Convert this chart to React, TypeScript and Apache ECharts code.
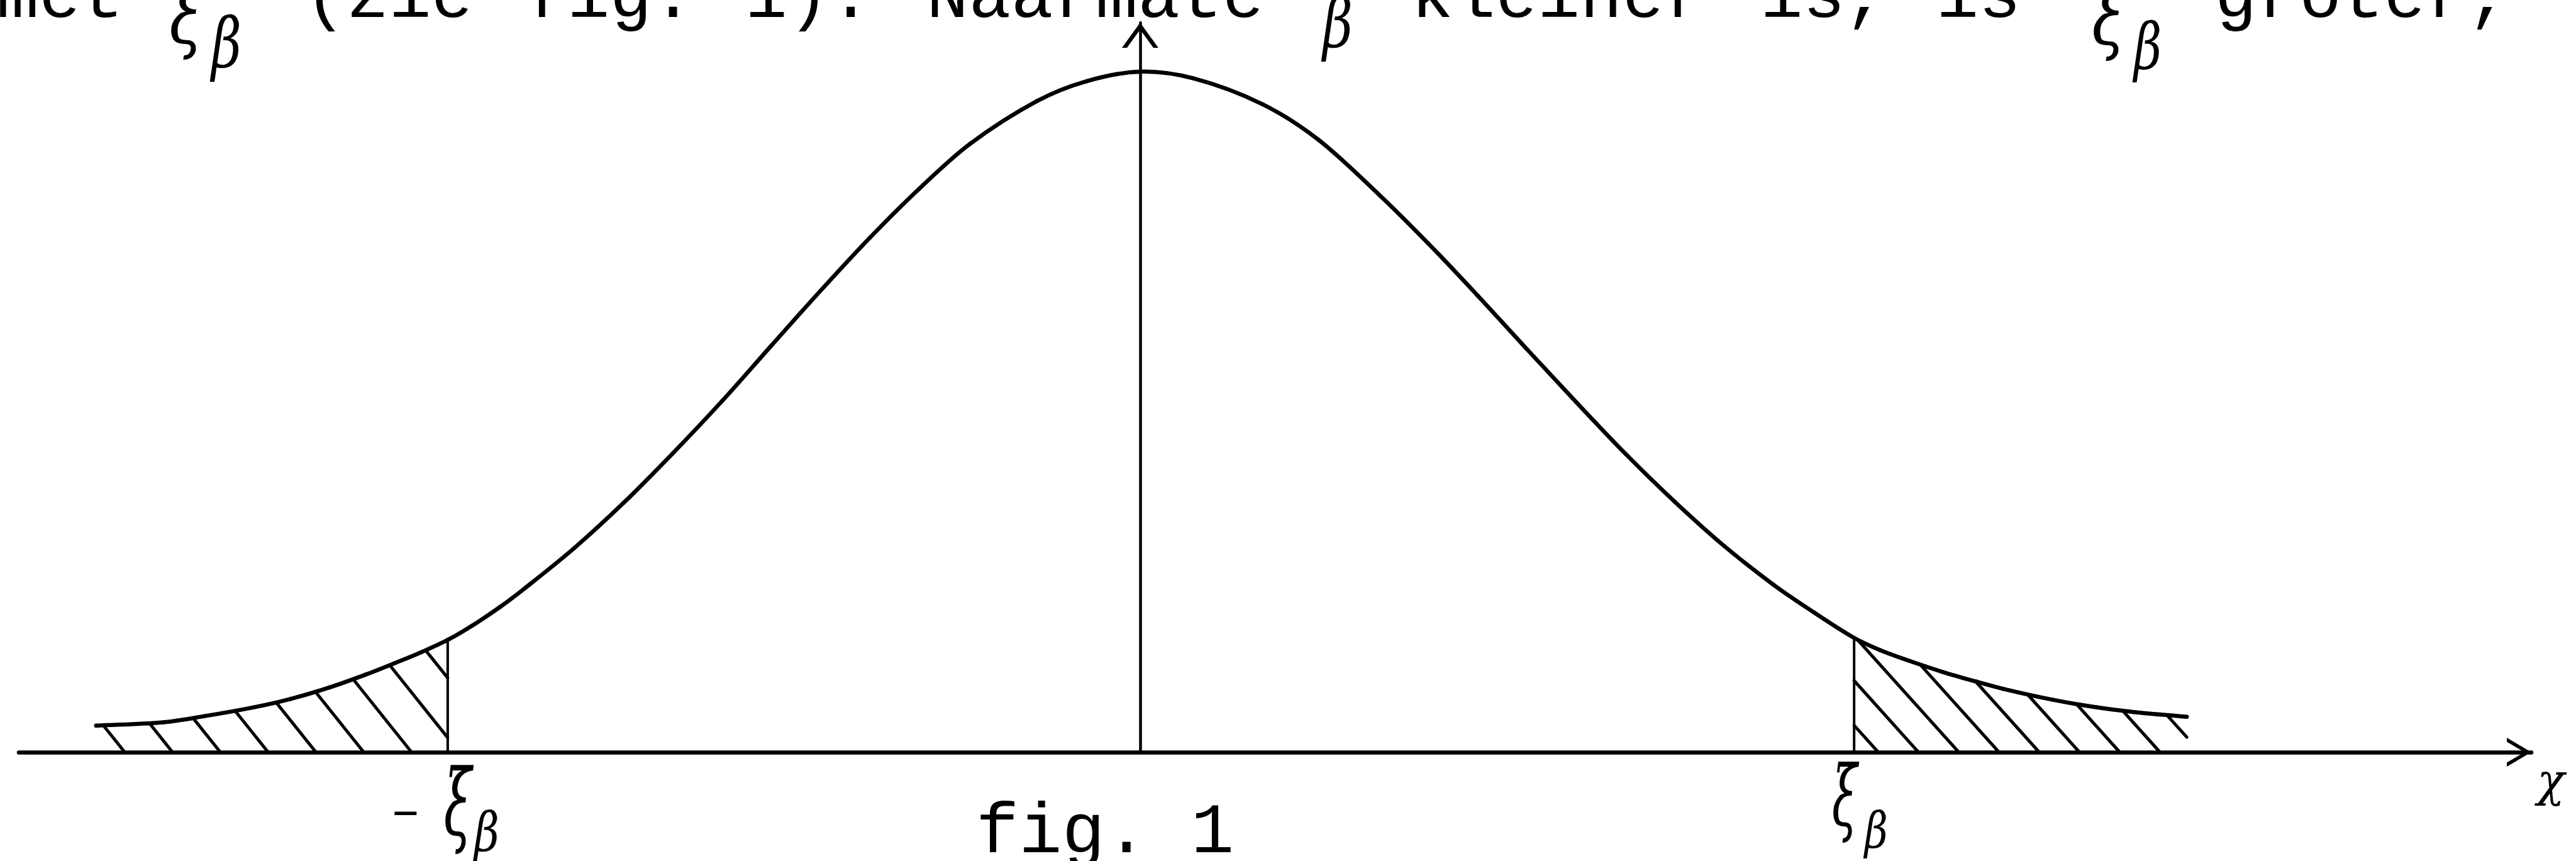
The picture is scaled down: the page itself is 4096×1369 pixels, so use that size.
import React, { useEffect, useRef } from "react";
import * as echarts from "echarts";

// Bell curve, x in standard-deviation units, height relative to the peak (= 1)
const curveX = [
  -2.812, -2.631, -2.52, -2.387, -2.29, -2.184, -2.086, -2.007, -1.936, -1.865,
  -1.799, -1.725, -1.657, -1.524, -1.392, -1.259, -1.126, -0.994, -0.861, -0.728, -0.595,
  -0.458, -0.277, -0.144, 0, 0.144, 0.33, 0.48, 0.644, 0.777, 0.909, 1.042, 1.175,
  1.308, 1.44, 1.573, 1.706, 1.816, 1.923, 1.993, 2.073, 2.161, 2.25, 2.325, 2.458,
  2.575, 2.677, 2.819,
];
const curveY = [
  0.039, 0.044, 0.053, 0.066, 0.078, 0.095, 0.114, 0.131, 0.147, 0.165,
  0.186, 0.213, 0.241, 0.3, 0.366, 0.439, 0.516, 0.597, 0.678, 0.756, 0.828,
  0.894, 0.957, 0.986, 1.0, 0.99, 0.952, 0.9, 0.819, 0.747, 0.671, 0.592, 0.514,
  0.438, 0.368, 0.303, 0.246, 0.205, 0.168, 0.15, 0.134, 0.118, 0.104, 0.093, 0.077,
  0.066, 0.059, 0.052,
];

// Critical values -ξβ and ξβ bounding the shaded tails
const cutoffs = [-1.865, 1.923];
const cutoffSigns = ["−", ""];
const cutoffLetter = "ξ";
const cutoffSub = "β";
const axisName = "χ";
const caption = "fig. 1";

// Typed sentence running along the top edge (partly cut off)
const sentenceWords = ["met", "(zie", "fig.", "1).", "Naarmate", "kleiner", "is,", "is", "groter,"];
const sentenceCells = [-10, 478, 829, 1180, 1461, 2233, 2795, 3076, 3511];
const sentenceGreek = [
  { ch: "ξ", x: 296, y: 23, fs: 130, sx: 0.75 },
  { ch: "β", x: 360, y: 69, fs: 110, sx: 0.75 },
  { ch: "β", x: 2127, y: 37, fs: 110, sx: 0.75 },
  { ch: "ξ", x: 3353, y: 25, fs: 130, sx: 0.75 },
  { ch: "β", x: 3415, y: 74, fs: 102, sx: 0.75 },
];

const INK = "#000";
const TYPE_FONT = '"Liberation Mono", "DejaVu Sans Mono", monospace';
const HAND_FONT = '"DejaVu Serif", "Liberation Serif", serif';

const X_MIN = -3.02;
const X_MAX = 3.747;
const Y_MAX = 1.072;
const GRID = { left: 30, right: 71, top: 36, bottom: 173 };

const CURVE_WIDTH = 6.5;
const HATCH_STEP = [76, 64];
const HATCH_SLANT = [0.8, 0.9];

const X_ARROW = "path://M0,390 L230,0 L460,390 L396,390 L230,109 L64,390 Z";
const Y_ARROW = "path://M0,400 L290,0 L580,400 L500,400 L290,110 L80,400 Z";

function heightAt(x: number): number {
  const i = curveX.indexOf(x);
  return i >= 0 ? curveY[i] : 0;
}

// One cubic Hermite piece of the curve between point i and point i + 1
function renderCurve(params: any, api: any) {
  const n = curveX.length;
  const i = params.dataIndex;
  if (i >= n - 1) return null;
  const P = (j: number) => api.coord([curveX[j], curveY[j]]);
  const slope = (j: number) => {
    const a = P(Math.max(j - 1, 0));
    const b = P(Math.min(j + 1, n - 1));
    return (b[1] - a[1]) / (b[0] - a[0]);
  };
  const p1 = P(i);
  const p2 = P(i + 1);
  const h = p2[0] - p1[0];
  return {
    type: "bezierCurve",
    shape: {
      x1: p1[0],
      y1: p1[1],
      x2: p2[0],
      y2: p2[1],
      cpx1: p1[0] + h / 3,
      cpy1: p1[1] + (slope(i) * h) / 3,
      cpx2: p2[0] - h / 3,
      cpy2: p2[1] - (slope(i + 1) * h) / 3,
    },
    style: { stroke: INK, lineWidth: CURVE_WIDTH, fill: "none", lineCap: "round" },
  };
}

// Hatches the area under the curve between lo and hi with parallel "\" strokes
function renderTail(params: any, api: any) {
  const lo = api.value(0);
  const hi = api.value(1);
  const idx = params.dataIndex;
  const step = HATCH_STEP[idx];
  const k = HATCH_SLANT[idx];
  const top: number[][] = [];
  for (let i = 0; i < curveX.length; i++) {
    if (curveX[i] >= lo - 1e-9 && curveX[i] <= hi + 1e-9) top.push(api.coord([curveX[i], curveY[i]]));
  }
  const poly = [...top, api.coord([hi, 0]), api.coord([lo, 0])];
  const cs = poly.map((p) => p[0] - k * p[1]);
  const cmin = Math.min(...cs);
  const cmax = Math.max(...cs);
  const children: any[] = [];
  for (let c = cmin + step * 0.6; c < cmax; c += step) {
    const hits: number[][] = [];
    for (let i = 0; i < poly.length; i++) {
      const a = poly[i];
      const b = poly[(i + 1) % poly.length];
      const ca = a[0] - k * a[1];
      const cb = b[0] - k * b[1];
      if ((ca <= c && cb > c) || (cb <= c && ca > c)) {
        const t = (c - ca) / (cb - ca);
        hits.push([a[0] + t * (b[0] - a[0]), a[1] + t * (b[1] - a[1])]);
      }
    }
    hits.sort((p, q) => p[1] - q[1]);
    for (let j = 0; j + 1 < hits.length; j += 2) {
      children.push({
        type: "line",
        shape: { x1: hits[j][0], y1: hits[j][1], x2: hits[j + 1][0], y2: hits[j + 1][1] },
        style: { stroke: INK, lineWidth: 5, lineCap: "round" },
      });
    }
  }
  // vertical line at the critical value
  const cut = api.value(3);
  const p0 = api.coord([cut, 0]);
  const p1 = api.coord([cut, api.value(2)]);
  children.push({
    type: "line",
    shape: { x1: p0[0], y1: p0[1], x2: p1[0], y2: p1[1] },
    style: { stroke: INK, lineWidth: 4 },
  });
  return { type: "group", children };
}

export default function App() {
  const ref = useRef<HTMLDivElement>(null);

  useEffect(() => {
    const el = ref.current!;
    const chart = echarts.init(el, null, { renderer: "svg" });

    const last = curveX.length - 1;
    const tails = [
      [curveX[0], cutoffs[0], heightAt(cutoffs[0]), cutoffs[0]],
      [cutoffs[1], curveX[last], heightAt(cutoffs[1]), cutoffs[1]],
    ];

    chart.setOption({
      animation: false,
      backgroundColor: "#fff",
      grid: { ...GRID, containLabel: false },
      xAxis: {
        type: "value",
        min: X_MIN,
        max: X_MAX,
        axisLine: {
          show: true,
          onZero: true,
          symbol: ["none", X_ARROW],
          symbolSize: [46, 39],
          symbolOffset: [0, -19.5],
          lineStyle: { color: INK, width: 6.5 },
        },
        axisTick: { show: false },
        axisLabel: { show: false },
        splitLine: { show: false },
      },
      yAxis: {
        type: "value",
        min: 0,
        max: Y_MAX,
        axisLine: {
          show: true,
          onZero: true,
          symbol: ["none", Y_ARROW],
          symbolSize: [58, 40],
          symbolOffset: [0, -20],
          lineStyle: { color: INK, width: 4.5 },
        },
        axisTick: { show: false },
        axisLabel: { show: false },
        splitLine: { show: false },
      },
      series: [
        {
          type: "custom",
          name: "density",
          renderItem: renderCurve,
          data: curveX.map((x, i) => [x, curveY[i]]),
          encode: { x: 0, y: 1 },
          z: 3,
        },
        {
          type: "custom",
          name: "tails",
          renderItem: renderTail,
          data: tails,
          encode: { x: [0, 1], y: 2 },
          z: 2,
        },
      ],
    });

    const graphic: any[] = [];
    const textEl = (text: string, x: number, y: number, fs: number, family: string, italic: boolean, sx = 1) => ({
      type: "text",
      x,
      y,
      scaleX: sx,
      silent: true,
      style: {
        text,
        fontFamily: family,
        fontSize: fs,
        fontStyle: italic ? "italic" : "normal",
        fill: INK,
        align: "center",
        verticalAlign: "middle",
      },
    });

    // typed sentence at the top
    const PITCH = 70.2;
    sentenceWords.forEach((w, i) => {
      graphic.push(textEl(w, sentenceCells[i] + (w.length * PITCH) / 2, -3, 112, TYPE_FONT, false));
    });
    sentenceGreek.forEach((g) => graphic.push(textEl(g.ch, g.x, g.y, g.fs, HAND_FONT, true, g.sx)));

    // labels of the critical values
    const labelLayout = [
      { sign: -67, signY: 1291, xi: 16, xiY: 1278, xiFs: 146, sub: 62, subY: 1323, subFs: 86 },
      { sign: 0, signY: 0, xi: -15, xiY: 1266, xiFs: 133, sub: 35, subY: 1320, subFs: 80 },
    ];
    cutoffs.forEach((c, i) => {
      const px = chart.convertToPixel({ gridIndex: 0 }, [c, 0]) as number[];
      const L = labelLayout[i];
      if (cutoffSigns[i]) graphic.push(textEl(cutoffSigns[i], px[0] + L.sign, L.signY, 70, HAND_FONT, false, 0.8));
      graphic.push(textEl(cutoffLetter, px[0] + L.xi, L.xiY, L.xiFs, HAND_FONT, true, 0.55));
      graphic.push(textEl(cutoffSub, px[0] + L.sub, L.subY, L.subFs, HAND_FONT, true, 0.8));
    });

    // axis name
    graphic.push(textEl(axisName, 4056, 1241, 72, HAND_FONT, true));

    // caption
    graphic.push(textEl(caption, 1757, 1324, 114, TYPE_FONT, false));

    chart.setOption({ graphic });

    return () => chart.dispose();
  }, []);

  return (
    <div
      ref={ref}
      style={{ position: "fixed", left: 0, top: 0, width: 4096, height: 1369, background: "#fff" }}
    />
  );
}
